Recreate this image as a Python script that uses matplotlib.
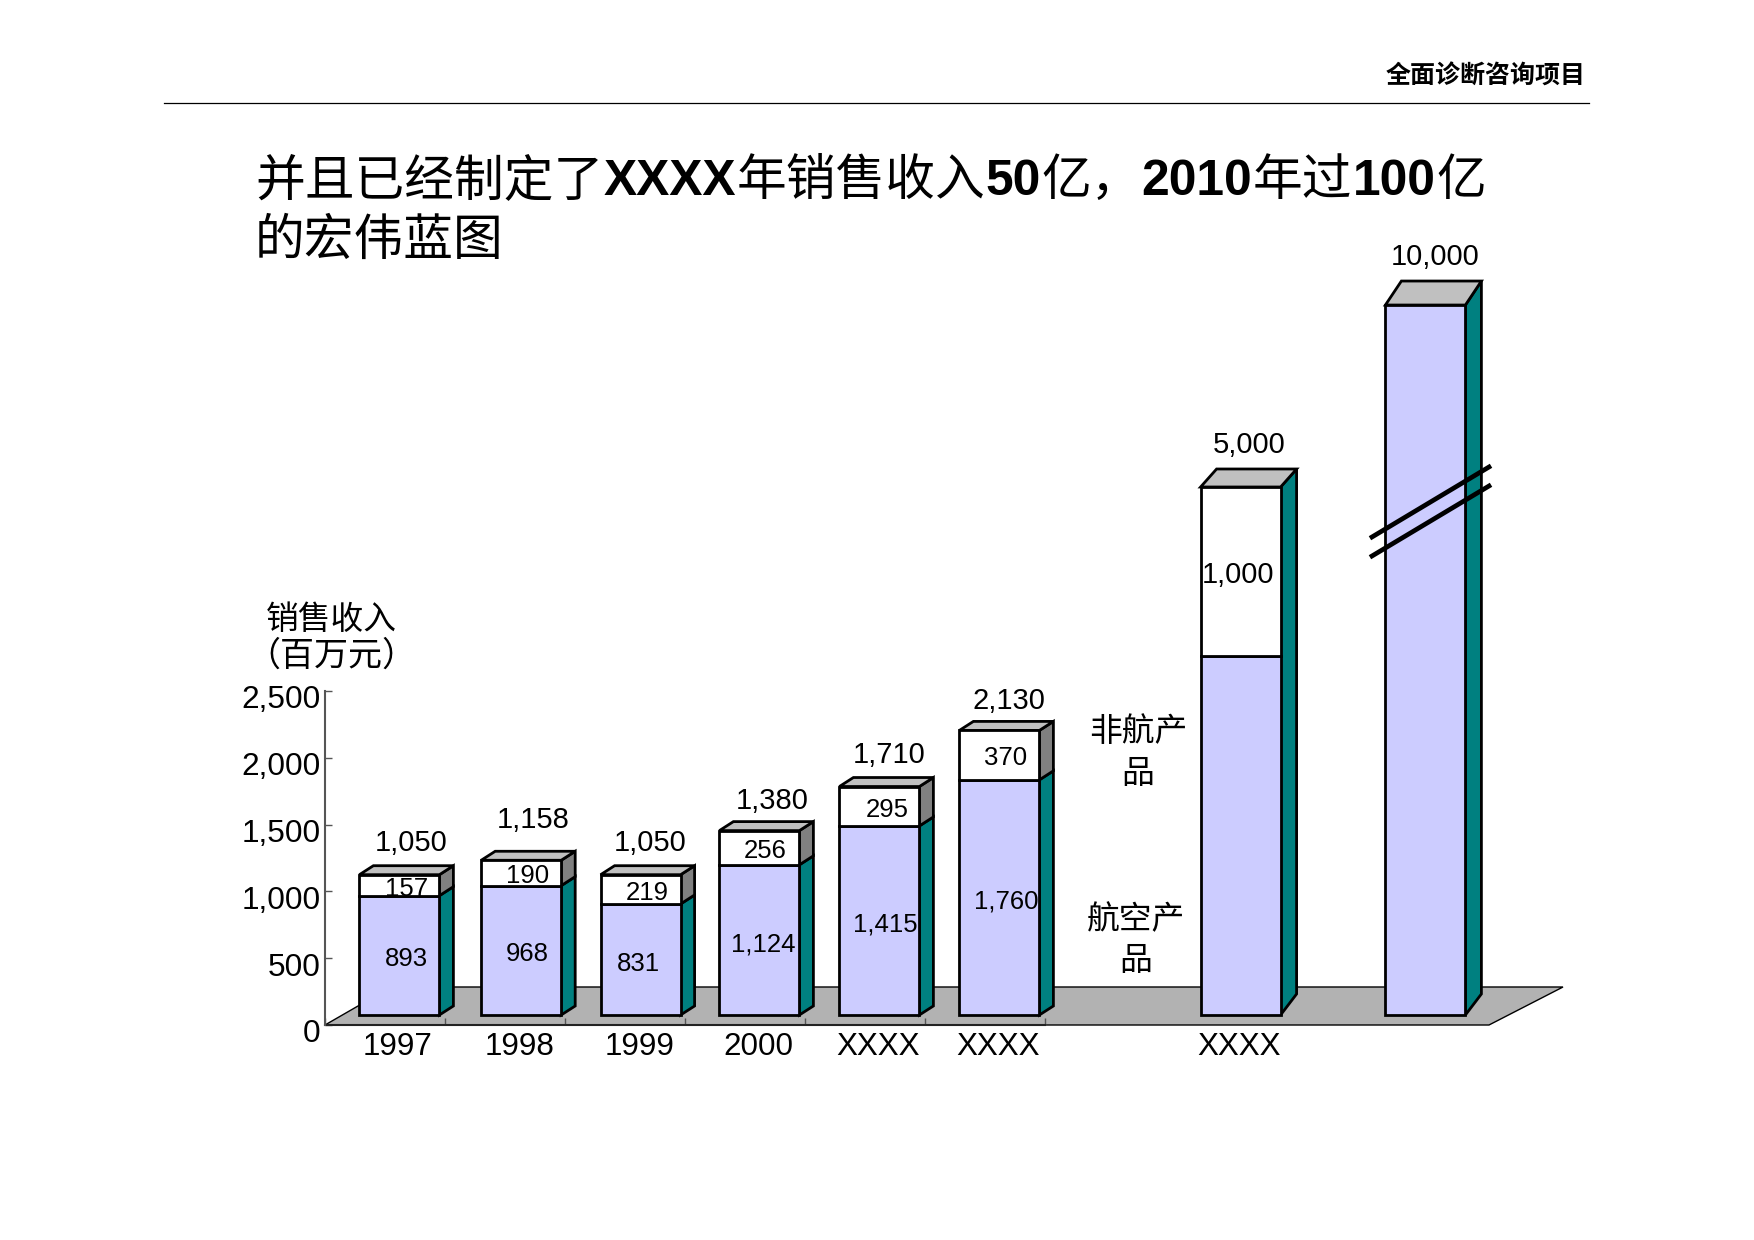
import matplotlib
matplotlib.use("Agg")
import matplotlib.pyplot as plt
from matplotlib.lines import Line2D
from matplotlib.transforms import ScaledTranslation

LATIN = "Liberation Sans"
CJK = "Noto Sans CJK SC"

categories = ["1997", "1998", "1999", "2000", "XXXX", "XXXX", "XXXX"]
air_values = [893, 968, 831, 1124, 1415, 1760, 2687, 5314]
non_air_values = [157, 190, 219, 256, 295, 370, 1265, 0]
air_labels = ["893", "968", "831", "1,124", "1,415", "1,760", "", ""]
non_air_labels = ["157", "190", "219", "256", "295", "370", "1,000", ""]
total_labels = ["1,050", "1,158", "1,050", "1,380", "1,710", "2,130", "5,000", "10,000"]
y_ticks = [0, 500, 1000, 1500, 2000, 2500]

# slot position of each bar on the x axis (last two sit past the axis)
bar_x = [0.62, 1.635, 2.63, 3.62, 4.62, 5.62, 7.63, 9.17]
# nudges in pixels, the labels are not quite centred in the original
air_dx = [7, 6, -2, 4, 6, 7, 0, 0]
non_air_dx = [7, 6, 7, 6, 8, 6, -3, 0]
total_dx = [12, 12, 10, 13, 10, 10, 9, 10]
total_dy = [23, 31, 23, 21, 23, 20, 24, 24]

W, H = 1754, 1240
PX_X = 120.0
PX_Y = 334 / 2500
BASE = 75
BAR_W = 80 / PX_X
EDGE = 2.0

fig = plt.figure(figsize=(W / 100, H / 100), dpi=100, facecolor="white")
ax = fig.add_axes([325 / W, 1 - 1025 / H, 720 / W, 334 / H])
ax.set_xlim(0, 6)
ax.set_ylim(0, 2500)
ax.patch.set_visible(False)


def fx(x):
    return x / W


def fy(y):
    return 1 - y / H


def text_px(x, y, s, size, family=CJK, weight="normal", ha="center", color="black"):
    return fig.text(fx(x), fy(y), s, fontsize=size, family=family, weight=weight,
                    ha=ha, va="center", color=color)


# floor
floor_x = [325, 1489, 1563, 391]
floor_y = [1025, 1025, 987, 987]
fig.add_artist(plt.Polygon([(fx(a), fy(b)) for a, b in zip(floor_x, floor_y)], closed=True,
                           transform=fig.transFigure, facecolor="#B2B2B2",
                           edgecolor="black", linewidth=1, zorder=-1))

# bars
for i in range(len(bar_x)):
    x = bar_x[i]
    air = air_values[i]
    non_air = non_air_values[i]
    top = air + non_air
    big = i >= 6
    dx = (16 if big else 14) / PX_X
    dy = ([18, 24][i - 6] if big else 9) / PX_Y
    low_dy = (21 if big else 9) / PX_Y
    left, right = x - BAR_W / 2, x + BAR_W / 2

    # side, drawn first so the front edges stay on top
    if big:
        ax.fill([right, right + dx, right + dx, right],
                [BASE, BASE + low_dy, BASE + top + dy, BASE + top],
                facecolor="#008080", edgecolor="black", linewidth=EDGE, clip_on=False, zorder=3)
    else:
        ax.fill([right, right + dx, right + dx, right],
                [BASE, BASE + low_dy, BASE + air + dy, BASE + air],
                facecolor="#008080", edgecolor="black", linewidth=EDGE, clip_on=False, zorder=3)
        ax.fill([right, right + dx, right + dx, right],
                [BASE + air, BASE + air + dy, BASE + top + dy, BASE + top],
                facecolor="#808080", edgecolor="black", linewidth=EDGE, clip_on=False, zorder=3)
    ax.fill([left, right, right + dx, left + dx],
            [BASE + top, BASE + top, BASE + top + dy, BASE + top + dy],
            facecolor="#C0C0C0", edgecolor="black", linewidth=EDGE, clip_on=False, zorder=3)

    ax.bar(x, air, BAR_W, bottom=BASE, color="#CCCCFF", edgecolor="black",
           linewidth=EDGE, clip_on=False, zorder=4)
    if non_air:
        ax.bar(x, non_air, BAR_W, bottom=BASE + air, color="white", edgecolor="black",
               linewidth=EDGE, clip_on=False, zorder=4)

    if air_labels[i]:
        ax.annotate(air_labels[i], (x, BASE + air / 2), xytext=(air_dx[i] * 0.72, -3),
                    textcoords="offset points", ha="center", va="center", fontsize=18.5,
                    family=LATIN, zorder=6, annotation_clip=False)
    if non_air_labels[i]:
        size = 20.8 if big else 18.5
        ax.annotate(non_air_labels[i], (x, BASE + air + non_air / 2),
                    xytext=(non_air_dx[i] * 0.72, -2.4), textcoords="offset points",
                    ha="center", va="center", fontsize=size, family=LATIN, zorder=6,
                    annotation_clip=False)
    ax.annotate(total_labels[i], (x, BASE + top + dy),
                xytext=(total_dx[i] * 0.72, total_dy[i] * 0.72),
                textcoords="offset points", ha="center", va="center", fontsize=21,
                family=LATIN, zorder=6, annotation_clip=False)

# axes
for side in ["top", "right"]:
    ax.spines[side].set_visible(False)
ax.spines["left"].set_color("#555555")
ax.spines["left"].set_linewidth(1.5)
ax.spines["bottom"].set_color("#222222")
ax.spines["bottom"].set_linewidth(1.5)
ax.spines["bottom"].set_zorder(2)
ax.set_yticks(y_ticks)
ax.set_yticklabels([f"{v:,}" for v in y_ticks], fontsize=22.8, family=LATIN)
ax.tick_params(axis="y", length=5, width=1, direction="in", color="#555555", pad=3)
ax.set_xticks([0, 1, 2, 3, 4, 5, 6])
ax.set_xticklabels([])
ax.tick_params(axis="x", length=5, width=1, direction="in", color="#555555")
# tick labels sit a little below their ticks in the original
shift = ScaledTranslation(0, -6 / 100, fig.dpi_scale_trans)
for lab in ax.get_yticklabels():
    lab.set_transform(lab.get_transform() + shift)

cat_x = bar_x[:6] + [bar_x[6]]
for cx, name in zip(cat_x, categories):
    ax.annotate(name, (cx, 0), xytext=(-1, -16), textcoords="offset points", ha="center",
                va="center", fontsize=22.6, family=LATIN, annotation_clip=False)

# axis title and segment notes
text_px(331, 620, "销售收入", 23.6)
text_px(331, 656, "（百万元）", 24.5)
text_px(1138, 732, "非航产", 23.6)
text_px(1138, 774, "品", 23.6)
text_px(1136, 920, "航空产", 23.6)
text_px(1136, 961, "品", 23.6)

# header
text_px(1586, 77, "全面诊断咨询项目", 18, weight="bold", ha="right")
fig.add_artist(Line2D([fx(164), fx(1589)], [fy(103), fy(103)], color="black", linewidth=0.9))

# title, mixed fonts so it has to be laid out piece by piece
title_parts = [("并且已经制定了", CJK, "normal"), ("XXXX", LATIN, "bold"), ("年销售收入", CJK, "normal"),
               ("50", LATIN, "bold"), ("亿，", CJK, "normal"), ("2010", LATIN, "bold"),
               ("年过", CJK, "normal"), ("100", LATIN, "bold"), ("亿", CJK, "normal")]
renderer = fig.canvas.get_renderer()
cursor = 255
for s, fam, wt in title_parts:
    t = fig.text(fx(cursor), fy(195), s, fontsize=35.8, family=fam, weight=wt, ha="left", va="baseline")
    cursor = t.get_window_extent(renderer).x1 + (1 if fam == LATIN else 0)
fig.text(fx(255), fy(255), "的宏伟蓝图", fontsize=35.8, family=CJK, ha="left", va="baseline")

# axis break marks on the last bar
for y0 in [537, 556]:
    fig.add_artist(Line2D([fx(1372), fx(1489)], [fy(y0), fy(y0 - 70)], color="black",
                          linewidth=3.4, zorder=10))

fig.savefig("out.png", dpi=100)
